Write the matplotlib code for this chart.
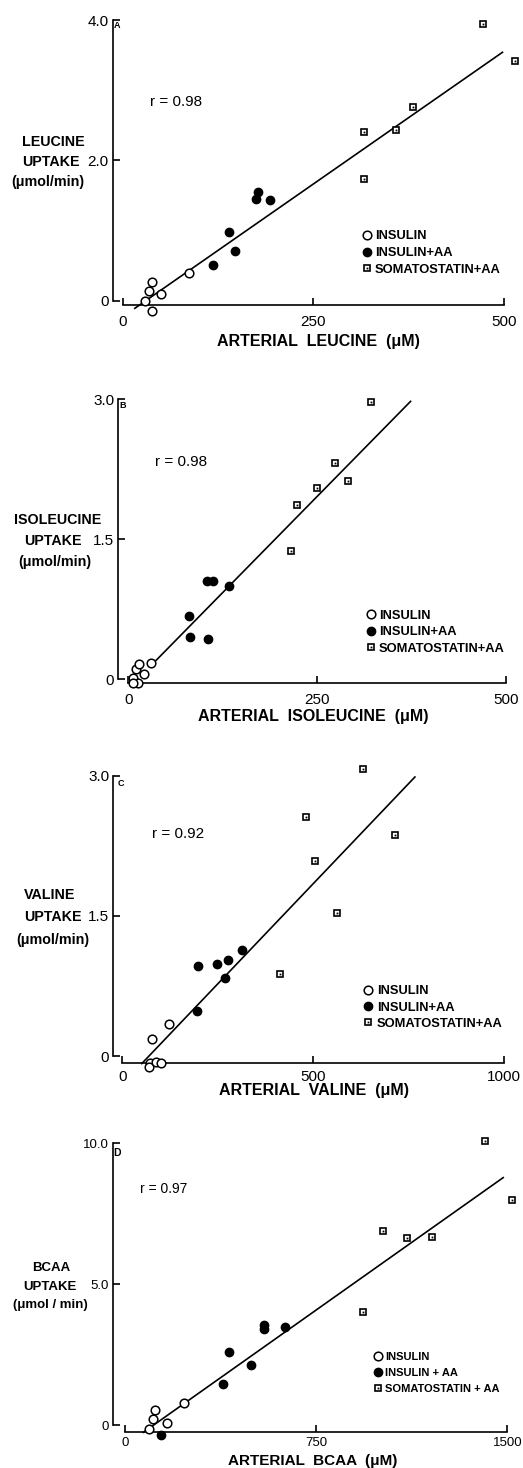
import numpy as np
import matplotlib
matplotlib.use("Agg")
import matplotlib.pyplot as plt
from matplotlib.lines import Line2D
from matplotlib.legend_handler import HandlerTuple

plt.rcParams['font.family'] = ['Liberation Sans', 'DejaVu Sans']

# ---------------- data ----------------
# Panel A : leucine
a_ins_x = [29, 34.6, 38, 50, 87.5, 38]
a_ins_y = [0.0, 0.14, 0.26, 0.10, 0.40, -0.14]
a_aa_x = [118, 139.5, 148, 174.5, 178, 193]
a_aa_y = [0.51, 0.98, 0.71, 1.45, 1.55, 1.43]
a_som_x = [316.5, 316.5, 358.5, 381, 472, 514]
a_som_y = [2.40, 1.73, 2.43, 2.76, 3.94, 3.42]
a_fit = dict(slope=0.00757, intercept=-0.23, x0=16, x1=498)

# Panel B : isoleucine
b_ins_x = [5.8, 10.2, 14.6, 21.2, 30, 13.3, 6.6]
b_ins_y = [0.01, 0.11, 0.16, 0.057, 0.17, -0.04, -0.04]
b_aa_x = [80, 81.3, 103.8, 111.8, 105.6, 133.8]
b_aa_y = [0.68, 0.45, 1.05, 1.05, 0.43, 1.00]
b_som_x = [321, 274, 249.5, 291.4, 223.9, 215.5]
b_som_y = [2.97, 2.32, 2.05, 2.12, 1.87, 1.37]
b_fit = dict(slope=0.00823, intercept=-0.10, x0=33, x1=374)

# Panel C : valine
c_ins_x = [78.5, 123, 72.5, 70, 88, 101]
c_ins_y = [0.18, 0.34, -0.07, -0.12, -0.06, -0.07]
c_aa_x = [197, 247, 276, 312.5, 269, 196]
c_aa_y = [0.96, 0.99, 1.03, 1.13, 0.83, 0.48]
c_som_x = [629, 481, 504, 715, 561, 413]
c_som_y = [3.07, 2.56, 2.09, 2.36, 1.53, 0.88]
c_fit = dict(slope=0.00429, intercept=-0.30, x0=51, x1=766)

# Panel D : BCAA
d_ins_x = [119, 110, 165, 96.5, 234]
d_ins_y = [0.53, 0.21, 0.08, -0.14, 0.79]
d_aa_x = [143.5, 386.5, 407.7, 494, 547, 547, 627]
d_aa_y = [-0.35, 1.44, 2.60, 2.13, 3.54, 3.41, 3.49]
d_som_x = [1412, 1518, 1011, 1105, 1206, 934]
d_som_y = [10.09, 7.99, 6.89, 6.64, 6.66, 4.0]
d_fit = dict(slope=0.00641, intercept=-0.73, x0=73, x1=1484)

a_xticks = [0, 250, 500]; a_yticks = [0, 2.0, 4.0]; a_ylabels = ["0", "2.0", "4.0"]
b_xticks = [0, 250, 500]; b_yticks = [0, 1.5, 3.0]; b_ylabels = ["0", "1.5", "3.0"]
c_xticks = [0, 500, 1000]; c_yticks = [0, 1.5, 3.0]; c_ylabels = ["0", "1.5", "3.0"]
d_xticks = [0, 750, 1500]; d_yticks = [0, 5.0, 10.0]; d_ylabels = ["0", "5.0", "10.0"]

a_ytitle = ["LEUCINE", "UPTAKE", "(\u03bcmol/min)"]
b_ytitle = ["ISOLEUCINE", "UPTAKE", "(\u03bcmol/min)"]
c_ytitle = ["VALINE", "UPTAKE", "(\u03bcmol/min)"]
d_ytitle = ["BCAA", "UPTAKE", "(\u03bcmol / min)"]
a_xtitle = "ARTERIAL  LEUCINE  (\u03bcM)"
b_xtitle = "ARTERIAL  ISOLEUCINE  (\u03bcM)"
c_xtitle = "ARTERIAL  VALINE  (\u03bcM)"
d_xtitle = "ARTERIAL  BCAA  (\u03bcM)"
r_texts = ["r = 0.98", "r = 0.98", "r = 0.92", "r = 0.97"]
panel_letters = ["A", "B", "C", "D"]
legend_abc = ["INSULIN", "INSULIN+AA", "SOMATOSTATIN+AA"]
legend_d = ["INSULIN", "INSULIN + AA", "SOMATOSTATIN + AA"]

# ---------------- layout ----------------
W, H = 523, 1468
fig = plt.figure(figsize=(W / 100, H / 100), dpi=100)
fig.patch.set_facecolor("white")


def fx(px):
    return px / W


def fy(py):
    return 1 - py / H


panels = [
    dict(ins=(a_ins_x, a_ins_y), aa=(a_aa_x, a_aa_y), som=(a_som_x, a_som_y), fit=a_fit,
         xticks=a_xticks, yticks=a_yticks, ylabels=a_ylabels, ytitle=a_ytitle, xtitle=a_xtitle,
         xcal=((122.6, 0), (504, 500)), ycal=((300.7, 0), (20, 4.0)), yspine=112.7, xspine=305,
         rect=(95, 522, 5, 325), xpad=7.0, ypad=3.0, tfs=11, ytl=[(53, 142), (51, 162), (48, 182)],
         xt=(318, 341.7), rt=(150, 102), letter=(117, 25), leg=(366.7, 237.3, 17.7), lfs=9.3, yfs=10.3,
         rfs=11, letfs=6.5, xfs=11.5),
    dict(ins=(b_ins_x, b_ins_y), aa=(b_aa_x, b_aa_y), som=(b_som_x, b_som_y), fit=b_fit,
         xticks=b_xticks, yticks=b_yticks, ylabels=b_ylabels, ytitle=b_ytitle, xtitle=b_xtitle,
         xcal=((128.3, 0), (505.7, 500)), ycal=((679.3, 0), (399.3, 3.0)), yspine=118.3, xspine=683.3,
         rect=(100, 522, 385, 705), xpad=7.0, ypad=3.0, tfs=11, ytl=[(57.5, 520), (53, 541), (54.5, 561.7)],
         xt=(313, 717), rt=(155, 462.3), letter=(123, 405), leg=(370.7, 616.7, 17.5), lfs=9.3, yfs=10.3,
         rfs=11, letfs=6.5, xfs=11.5),
    dict(ins=(c_ins_x, c_ins_y), aa=(c_aa_x, c_aa_y), som=(c_som_x, c_som_y), fit=c_fit,
         xticks=c_xticks, yticks=c_yticks, ylabels=c_ylabels, ytitle=c_ytitle, xtitle=c_xtitle,
         xcal=((122.3, 0), (504.3, 1000)), ycal=((1056, 0), (775.7, 3.0)), yspine=113.3, xspine=1062.7,
         rect=(95, 522, 760, 1082), xpad=5.3, ypad=3.0, tfs=11, ytl=[(50, 895), (52.5, 916.7), (53, 940)],
         xt=(314, 1091), rt=(151.7, 834), letter=(121, 783), leg=(368.3, 992.3, 17.2), lfs=9.3, yfs=10.3,
         rfs=11, letfs=6.5, xfs=11.5),
    dict(ins=(d_ins_x, d_ins_y), aa=(d_aa_x, d_aa_y), som=(d_som_x, d_som_y), fit=d_fit,
         xticks=d_xticks, yticks=d_yticks, ylabels=d_ylabels, ytitle=d_ytitle, xtitle=d_xtitle,
         xcal=((124.7, 0), (507.3, 1500)), ycal=((1425, 0), (1143.3, 10.0)), yspine=112.7, xspine=1432.3,
         rect=(95, 522, 1125, 1450), xpad=3.2, ypad=3.0, tfs=9.5, ytl=[(51.7, 1268.3), (50, 1286.7), (50.5, 1305)],
         xt=(312.5, 1461), rt=(140, 1189.3), letter=(117, 1153.5), leg=(377.7, 1357.7, 17.5), lfs=8.0, yfs=9.5,
         rfs=10, letfs=7.5, xfs=11),
]

legend_sets = [legend_abc, legend_abc, legend_abc, legend_d]

for i, p in enumerate(panels):
    l, r, t, b = p["rect"]
    ax = fig.add_axes([fx(l), fy(b), (r - l) / W, (b - t) / H])
    (px0, x0), (px1, x1) = p["xcal"]
    sx = (x1 - x0) / (px1 - px0)
    ax.set_xlim(x0 + (l - px0) * sx, x0 + (r - px0) * sx)
    (py0, y0), (py1, y1) = p["ycal"]
    sy = (y1 - y0) / (py1 - py0)
    ax.set_ylim(y0 + (b - py0) * sy, y0 + (t - py0) * sy)
    ax.patch.set_alpha(0)

    for s in ["top", "right"]:
        ax.spines[s].set_visible(False)
    ax.spines["left"].set_position(("data", x0 + (p["yspine"] - px0) * sx))
    ax.spines["bottom"].set_position(("data", y0 + (p["xspine"] - py0) * sy))
    ax.spines["left"].set_bounds(p["yticks"][0], p["yticks"][-1])
    ax.spines["bottom"].set_bounds(p["xticks"][0], p["xticks"][-1])
    for s in ["left", "bottom"]:
        ax.spines[s].set_linewidth(1.2)

    ax.set_xticks(p["xticks"])
    ax.set_xticklabels([str(v) for v in p["xticks"]])
    ax.set_yticks(p["yticks"])
    ax.set_yticklabels(p["ylabels"])
    ax.tick_params(axis="both", direction="in", length=5, width=1.2, labelsize=p["tfs"])
    ax.tick_params(axis="x", pad=p["xpad"])
    ax.tick_params(axis="y", pad=p["ypad"])

    f = p["fit"]
    xs = np.array([f["x0"], f["x1"]])
    ax.plot(xs, f["slope"] * xs + f["intercept"], color="black", lw=1.2, zorder=2, clip_on=False)

    ix, iy = p["ins"]
    ax.plot(ix, iy, "o", ms=6.2, mfc="white", mec="black", mew=1.1, zorder=4, clip_on=False)
    fxa, fya = p["aa"]
    ax.plot(fxa, fya, "o", ms=6.0, mfc="black", mec="black", zorder=4, clip_on=False)
    sxs, sys_ = p["som"]
    ax.plot(sxs, sys_, "s", ms=4.8, mfc="white", mec="black", mew=1.2, zorder=4, clip_on=False)
    ax.plot(sxs, sys_, "s", ms=1.3, mfc="black", mec="black", mew=0, zorder=5, clip_on=False)

    # legend
    h1 = Line2D([], [], ls="none", marker="o", ms=6.2, mfc="white", mec="black", mew=1.1)
    h2 = Line2D([], [], ls="none", marker="o", ms=6.0, mfc="black", mec="black")
    h3a = Line2D([], [], ls="none", marker="s", ms=4.8, mfc="white", mec="black", mew=1.2)
    h3b = Line2D([], [], ls="none", marker="s", ms=1.3, mfc="black", mec="black", mew=0)
    lx, ly, lsp = p["leg"]
    fs_px = p["lfs"] * 100 / 72
    ax.legend([h1, h2, (h3a, h3b)], legend_sets[i],
              handler_map={tuple: HandlerTuple(ndivide=1, pad=0)},
              loc="upper left", bbox_to_anchor=(fx(lx - 0.4 * fs_px), fy(ly - 0.55 * fs_px)),
              bbox_transform=fig.transFigure, frameon=False, borderpad=0, borderaxespad=0,
              handlelength=0.8, handletextpad=0.25,
              labelspacing=(lsp - 1.0 * fs_px) / fs_px,
              prop=dict(family=['Liberation Sans', 'DejaVu Sans'], weight="bold", size=p["lfs"]))

    # texts
    for (tx, ty), s in zip(p["ytl"], p["ytitle"]):
        fig.text(fx(tx), fy(ty), s, ha="center", va="center", fontsize=p["yfs"], fontweight="bold")
    fig.text(fx(p["xt"][0]), fy(p["xt"][1]), p["xtitle"], ha="center", va="center",
             fontsize=p["xfs"], fontweight="bold")
    fig.text(fx(p["rt"][0]), fy(p["rt"][1]), r_texts[i], ha="left", va="center", fontsize=p["rfs"])
    fig.text(fx(p["letter"][0]), fy(p["letter"][1]), panel_letters[i], ha="center", va="center",
             fontsize=p["letfs"], fontweight="bold")

fig.savefig("out.png", dpi=100, facecolor="white")
